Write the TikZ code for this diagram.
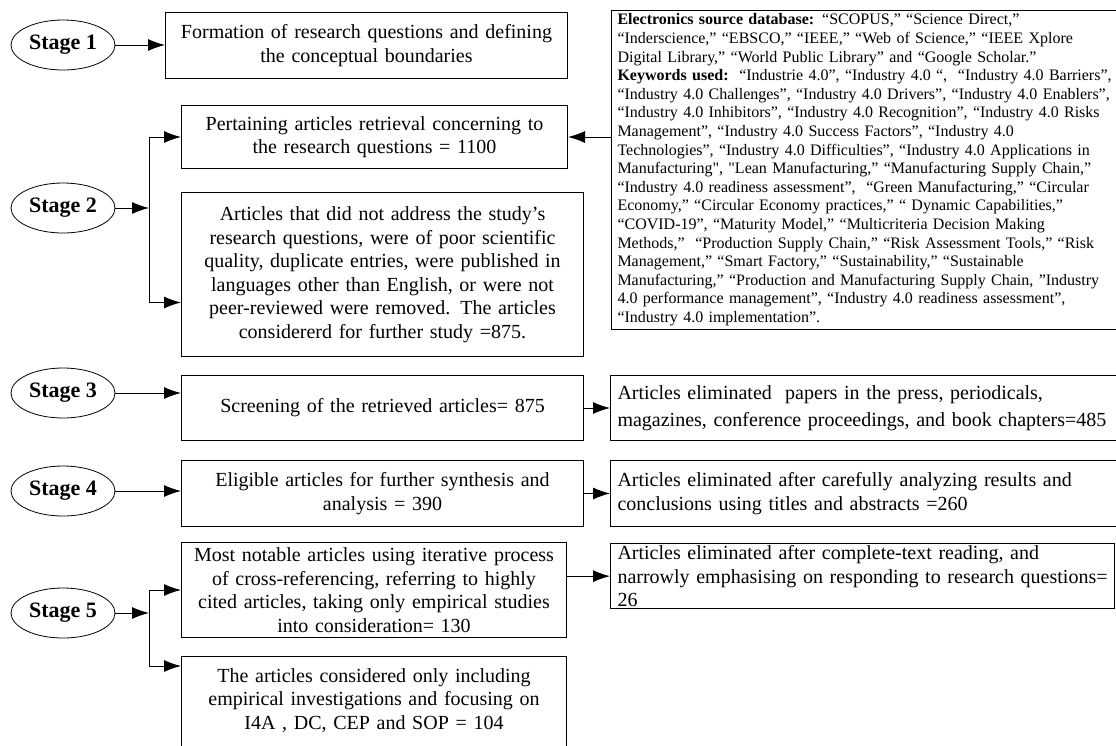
\documentclass[tikz,border=0pt]{standalone}
\usepackage{fontspec}
\setmainfont{Liberation Serif}[Ligatures=TeXOff]
\usepackage{tikz}
\usetikzlibrary{arrows.meta,shapes}
\tikzstyle{stage} = [draw, ellipse, line width=0.8pt, minimum width=104pt, minimum height=50pt, inner sep=0pt, font=\fontsize{22}{26}\selectfont\bfseries]
\tikzstyle{box} = [draw, rectangle, line width=1pt, anchor=north west, inner xsep=6pt, inner ysep=2pt, align=center, font=\fontsize{20}{23.5}\selectfont]
\tikzstyle{elim} = [box, align=left, inner xsep=7pt]
\tikzstyle{src} = [draw, rectangle, line width=1pt, anchor=north west, inner xsep=6pt, align=left, text width=505pt, font=\fontsize{16}{18.6}\selectfont]
\tikzstyle{link} = [line width=1pt, -{Latex[length=17pt,width=12pt]}]

\begin{document}
\begin{tikzpicture}[x=1pt,y=-1pt]
\useasboundingbox (0,0) rectangle (1116,745);
\clip (0,0) rectangle (1116,745);
\node[stage] (s1) at (63,45) {Stage 1};
\node[stage] (s2) at (63,208) {Stage 2};
\node[stage] (s3) at (63,393) {Stage 3};
\node[stage] (s4) at (63,491) {Stage 4};
\node[stage] (s5) at (63,613) {Stage 5};
\node[box, minimum width=402pt, minimum height=66pt, text width=390pt] (b1) at (165,12) {Formation of research questions and defining\\the conceptual boundaries};
\node[box, minimum width=386pt, minimum height=63pt, text width=374pt] (b2a) at (181,105) {Pertaining articles retrieval concerning to\\the research questions = 1100};
\node[box, minimum width=402pt, minimum height=164pt, text width=390pt] (b2b) at (181,192) {Articles that did not address the study’s\\research questions, were of poor scientific\\quality, duplicate entries, were published in\\languages other than English, or were not\\peer-reviewed were removed. The articles\\considererd for further study =875.};
\node[src, minimum height=316pt] (bsrc) at (611,10) {\textbf{Electronics source database:} “SCOPUS,” “Science Direct,”\\
“Inderscience,” “EBSCO,” “IEEE,” “Web of Science,” “IEEE Xplore\\
Digital Library,” “World Public Library” and “Google Scholar.”\\
\textbf{Keywords used:}\ \ “Industrie 4.0”, “Industry 4.0 “,\ \ “Industry 4.0 Barriers”,\\
“Industry 4.0 Challenges”, “Industry 4.0 Drivers”, “Industry 4.0 Enablers”,\\
“Industry 4.0 Inhibitors”, “Industry 4.0 Recognition”, “Industry 4.0 Risks\\
Management”, “Industry 4.0 Success Factors”, “Industry 4.0\\
Technologies”, “Industry 4.0 Difficulties”, “Industry 4.0 Applications in\\
Manufacturing", "Lean Manufacturing,” “Manufacturing Supply Chain,”\\
“Industry 4.0 readiness assessment”,\ \ “Green Manufacturing,” “Circular\\
Economy,” “Circular Economy practices,” “ Dynamic Capabilities,”\\
“COVID-19”, “Maturity Model,” “Multicriteria Decision Making\\
Methods,”\ \ “Production Supply Chain,” “Risk Assessment Tools,” “Risk\\
Management,” “Smart Factory,” “Sustainability,” “Sustainable\\
Manufacturing,” “Production and Manufacturing Supply Chain, ”Industry\\
4.0 performance management”, “Industry 4.0 readiness assessment”,\\
“Industry 4.0 implementation”.};
\node[box, minimum width=402pt, minimum height=65pt, text width=390pt] (b3) at (181,375) {Screening of the retrieved articles= 875};
\node[elim, minimum width=506pt, minimum height=65pt, text width=492pt] (b3r) at (610,375) {Articles eliminated\ \ papers in the press, periodicals,\\[3pt]\mbox{magazines, conference proceedings, and book chapters=485}};
\node[box, minimum width=402pt, minimum height=66pt, text width=390pt] (b4) at (181,460) {Eligible articles for further synthesis and\\analysis = 390};
\node[elim, minimum width=506pt, minimum height=66pt, text width=492pt] (b4r) at (610,460) {Articles eliminated after carefully analyzing results and\\conclusions using titles and abstracts =260};
\node[box, minimum width=385pt, minimum height=95pt, text width=373pt] (b5a) at (181,542) {Most notable articles using iterative process\\of cross-referencing, referring to highly\\cited articles, taking only empirical studies\\into consideration= 130};
\node[elim, minimum width=504pt, minimum height=63pt, text width=490pt] (b5r) at (610,543) {Articles eliminated after complete-text reading, and\\\mbox{narrowly emphasising on responding to research questions=}\\26};
\node[box, minimum width=385pt, minimum height=104pt, text width=373pt] (b5b) at (181,656) {The articles considered only including\\empirical investigations and focusing on\\I4A , DC, CEP and SOP = 104\\[-4pt]\mbox{}};
\coordinate (j2) at (149,208);
\coordinate (j5) at (149,613);
\draw[link] (s1.east) -- (s1.east -| b1.west);
\draw[link] (s2.east) -- (j2);
\draw[link] (j2) |- (b2a.west);
\draw[link] (j2) |- ([yshift=-28pt]b2b.west);
\draw[link] (bsrc.west |- b2a.east) -- (b2a.east);
\draw[link] (s3.east) -- (s3.east -| b3.west);
\draw[link] (b3.east) -- (b3r.west);
\draw[link] (s4.east) -- (s4.east -| b4.west);
\draw[link] (b4.east) -- (b4r.west);
\draw[link] (s5.east) -- (j5);
\draw[link] (j5) |- (b5a.west);
\draw[link] (j5) |- ([yshift=-10pt]b5b.north west);
\draw[link] (b5a.east |- b5r.west) -- (b5r.west);
\end{tikzpicture}
\end{document}
